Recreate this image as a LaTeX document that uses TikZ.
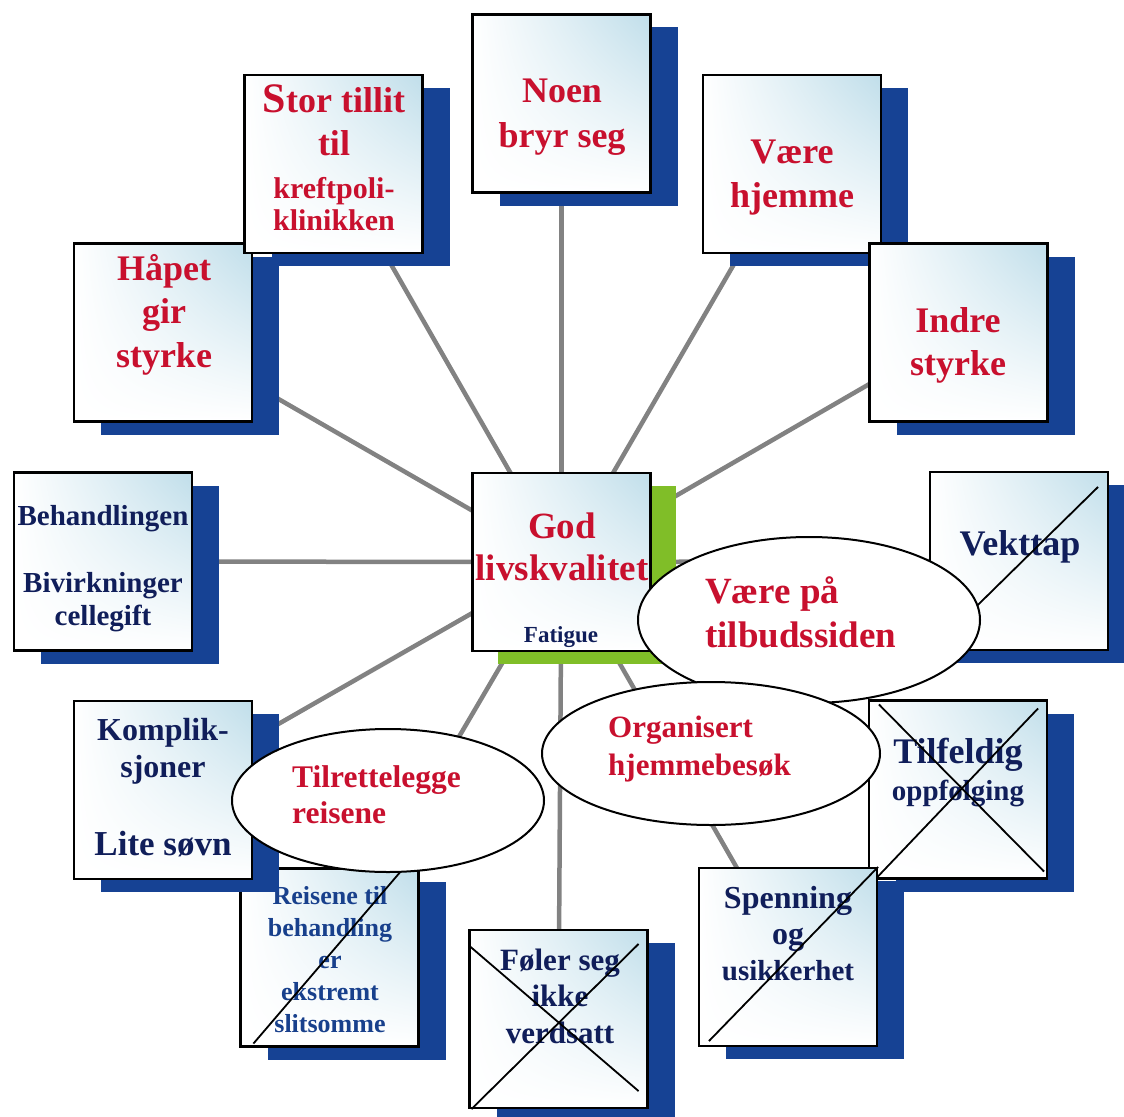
\documentclass[tikz,border=0pt]{standalone}
\usepackage{fontspec}
\setmainfont{Liberation Serif}
\usetikzlibrary{shapes.geometric,shadows,shadings,calc,backgrounds}

\definecolor{redtext}{RGB}{200,16,46}
\definecolor{navytext}{RGB}{16,30,90}
\definecolor{bluetext}{RGB}{24,64,140}
\definecolor{shadowblue}{RGB}{22,66,148}
\definecolor{shadowgreen}{RGB}{128,190,40}
\definecolor{facetint}{RGB}{192,222,234}
\definecolor{spokegray}{RGB}{130,130,130}

\tikzset{
  card/.style={rectangle, draw=black, line width=2.2pt, inner sep=0pt,
    minimum width=178pt, minimum height=178pt,
    shade, upper left=white, upper right=facetint, lower left=white, lower right=white,
    drop shadow={shadow xshift=27pt, shadow yshift=-13pt, fill=shadowblue, opacity=1}},
  centrecard/.style={rectangle, draw=black, line width=2.2pt, inner sep=0pt,
    minimum width=178pt, minimum height=178pt,
    shade, upper left=white, upper right=facetint, lower left=white, lower right=white,
    drop shadow={shadow xshift=25pt, shadow yshift=-13pt, fill=shadowgreen, opacity=1}},
  bubble/.style={ellipse, draw=black, line width=2pt, fill=white, inner sep=0pt},
  spoke/.style={draw=spokegray, line width=4.5pt},
  strike/.style={draw=black, line width=1.8pt},
  % labels are placed by the baseline of their last line
  lbl/.style={inner sep=0pt, anchor=base, align=center, font=\bfseries},
  redlbl/.style={lbl, text=redtext},
  navylbl/.style={lbl, text=navytext},
  leftlbl/.style={inner sep=0pt, anchor=base west, align=left, font=\bfseries, text=redtext},
}

\begin{document}
\begin{tikzpicture}[x=1pt, y=-1pt]
\useasboundingbox (0,0) rectangle (1124,1116);

% ---- outer cards, drawn in stacking order ----
\node[card] (noen)  at (561.5,103.5) {};
\node[redlbl, font=\bfseries\fontsize{36}{45}\selectfont] (noen-t) at (562,147) {Noen\\bryr seg};

\node[card] (haapet) at (163,332.5) {};
\node[redlbl, font=\bfseries\fontsize{36}{43.5}\selectfont] (haapet-t) at (164,367) {Håpet\\gir\\styrke};

\node[card] (stor) at (333.5,164) {};
\node[redlbl, font=\bfseries\fontsize{36}{43}\selectfont] (stor-t) at (334,230)
  {{\fontsize{42}{43}\selectfont S}tor tillit\\til\\{\fontsize{30}{43}\selectfont kreftpoli-}\\[-11pt]{\fontsize{30}{43}\selectfont klinikken}};

\node[card] (vaere) at (792,164) {};
\node[redlbl, font=\bfseries\fontsize{36}{44}\selectfont] (vaere-t) at (792,207) {Være\\hjemme};

\node[card] (indre) at (958.5,332.5) {};
\node[redlbl, font=\bfseries\fontsize{36}{43}\selectfont] (indre-t) at (958,375) {Indre\\styrke};

\node[card] (behandl) at (103,561.5) {};
\node[navylbl, font=\bfseries\fontsize{29}{33}\selectfont] (behandl-t) at (103,625)
  {Behandlingen\\[34pt]Bivirkninger\\cellegift};

\node[card] (vekt) at (1019,561) {};
\node[navylbl, font=\bfseries\fontsize{36}{40}\selectfont] (vekt-t) at (1020,555) {Vekttap};
\draw[strike] ($(vekt.north east)+(-11,16)$) -- ($(vekt.south west)+(4,-2)$);

\node[centrecard] (god) at (561.5,562) {};
\node[redlbl, font=\bfseries\fontsize{37}{42}\selectfont] (god-t) at (562,580) {God\\livskvalitet};
\node[navylbl, font=\bfseries\fontsize{23}{26}\selectfont] (fatigue) at (561,642) {Fatigue};

\node[card] (reis) at (329.5,957.5) {};
\node[lbl, text=bluetext, font=\bfseries\fontsize{26}{32}\selectfont] (reis-t) at (330,1032)
  {Reisene til\\behandling\\er\\ekstremt\\slitsomme};
\draw[strike] ($(reis.south west)+(14,-4)$) -- ($(reis.north east)+(-18,3)$);

\node[card] (komplik) at (163,790) {};
\node[navylbl, font=\bfseries\fontsize{32}{37}\selectfont] (komplik-t) at (163,855)
  {Komplik-\\sjoner\\[41pt]{\fontsize{35}{37}\selectfont Lite søvn}};

\node[card] (foler) at (558.5,1019) {};
\node[navylbl, font=\bfseries\fontsize{31}{36.5}\selectfont] (foler-t) at (560,1043) {Føler seg\\ikke\\verdsatt};
\draw[strike] ($(foler.north west)+(1,17)$) -- ($(foler.south east)+(-10,-18)$);
\draw[strike] ($(foler.north east)+(-10,15)$) -- ($(foler.south west)+(3,0)$);

\node[card] (tilf) at (958,789.5) {};
\node[navylbl, font=\bfseries\fontsize{36}{37}\selectfont] (tilf-t) at (958,800)
  {Tilfeldig\\{\fontsize{29}{37}\selectfont oppfølging}};
\draw[strike] ($(tilf.north west)+(11,5)$) -- ($(tilf.south east)+(-4,-8)$);
\draw[strike] ($(tilf.north east)+(-10,9)$) -- ($(tilf.south west)+(8,-1)$);

\node[card] (spenn) at (788,957) {};
\node[navylbl, font=\bfseries\fontsize{32}{36}\selectfont] (spenn-t) at (788,980)
  {Spenning\\og\\{\fontsize{29}{36}\selectfont usikkerhet}};
\draw[strike] ($(spenn.south west)+(11,-6)$) -- (spenn.north east);

% ---- ellipses on top ----
\node[bubble, minimum width=312pt, minimum height=143pt] (tilr) at (388,800.5) {};
\node[leftlbl, font=\bfseries\fontsize{31.5}{36}\selectfont] (tilr-t) at (292,823) {Tilrettelegge\\reisene};

\node[bubble, minimum width=342pt, minimum height=166pt] (vpaa) at (809,620) {};
\node[leftlbl, font=\bfseries\fontsize{37}{44}\selectfont] (vpaa-t) at (705,647) {Være på\\tilbudssiden};

\node[bubble, minimum width=338pt, minimum height=143pt] (org) at (711,753.5) {};
\node[leftlbl, font=\bfseries\fontsize{31}{38}\selectfont] (org-t) at (608,775) {Organisert\\hjemmebesøk};

% ---- spokes from the centre card, beneath everything ----
\begin{scope}[on background layer]
  \foreach \t in {noen,stor,vaere,indre,haapet,behandl,vekt,komplik,reis,foler,spenn,tilf}
    \draw[spoke] (god.center) -- (\t.center);
\end{scope}
\end{tikzpicture}
\end{document}
